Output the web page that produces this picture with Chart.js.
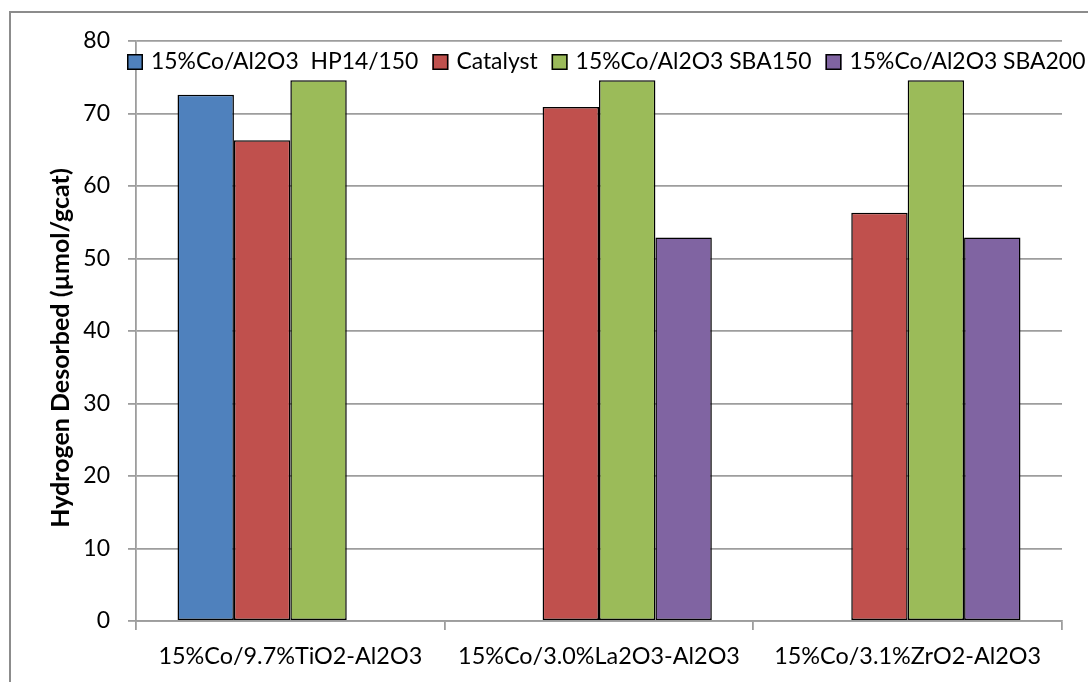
<!DOCTYPE html>
<html>
<head>
<meta charset="utf-8">
<script src="https://cdn.jsdelivr.net/npm/chart.js@4.4.0/dist/chart.umd.min.js"></script>
<style>
  body { margin: 0; background: #fff; }
  #wrap { position: relative; width: 1088px; height: 682px; }
</style>
</head>
<body>
<div id="wrap"><canvas id="canvas"></canvas></div>
<script>
// catalysts on the x axis, one series per support
var CATEGORIES = ["15%Co/9.7%TiO2-Al2O3", "15%Co/3.0%La2O3-Al2O3", "15%Co/3.1%ZrO2-Al2O3"];
var SERIES_NAMES = ["15%Co/Al2O3  HP14/150", "Catalyst", "15%Co/Al2O3 SBA150", "15%Co/Al2O3 SBA200"];
var HP14_150 = [72.6, null, null];
var CATALYST = [66.3, 70.9, 56.3];
var SBA150 = [74.6, 74.6, 74.6];
var SBA200 = [null, 52.9, 52.9];
var Y_TICKS = [0, 10, 20, 30, 40, 50, 60, 70, 80];
var Y_TITLE = "Hydrogen Desorbed (µmol/gcat)";

var COLORS = ["#4f81bd", "#c0504d", "#9bbb59", "#8064a2"];
var GRID = "#9d9d9d";
var FONT = "Lato";

/* outer frame of the chart box */
var framePlugin = {
  id: 'frame',
  beforeDraw: function(chart) {
    var c = chart.ctx;
    c.save();
    c.fillStyle = '#fff';
    c.fillRect(0, 0, chart.width, chart.height);
    c.strokeStyle = '#8c8c8c';
    c.lineWidth = 2;
    c.strokeRect(10, 12, chart.width + 50, chart.height + 50);
    c.restore();
  }
};

/* legend sits inside the plot, one row, plus the rotated y title */
var legendPlugin = {
  id: 'insideLegend',
  afterDraw: function(chart) {
    var c = chart.ctx;
    c.save();
    c.font = '22.9px ' + FONT;
    c.textBaseline = 'middle';
    c.textAlign = 'left';
    var x = 127, y = 62;
    chart.data.datasets.forEach(function(ds) {
      c.fillStyle = ds.backgroundColor;
      c.fillRect(x, y - 8, 16, 16);
      c.strokeStyle = '#000';
      c.lineWidth = 1.5;
      c.strokeRect(x + 0.75, y - 7.25, 14.5, 14.5);
      c.fillStyle = '#000';
      c.fillText(ds.label, x + 24, y);
      x += 24 + c.measureText(ds.label).width + 14;
    });

    c.translate(61, 348);
    c.rotate(-Math.PI / 2);
    c.textAlign = 'center';
    c.font = 'bold 25px ' + FONT;
    c.fillText(Y_TITLE, 0, 0);
    c.restore();
  }
};

function makeDataset(i, values) {
  return {
    label: SERIES_NAMES[i],
    data: values,
    backgroundColor: COLORS[i],
    borderColor: '#000',
    borderWidth: 1.5,
    borderSkipped: false
  };
}

var ctx = document.getElementById('canvas').getContext('2d');
window.myBar = new Chart(ctx, {
  type: 'bar',
  data: {
    labels: CATEGORIES,
    datasets: [
      makeDataset(0, HP14_150),
      makeDataset(1, CATALYST),
      makeDataset(2, SBA150),
      makeDataset(3, SBA200)
    ]
  },
  options: {
    responsive: true,
    maintainAspectRatio: false,
    animation: false,
    layout: { padding: { top: 41, right: 26, bottom: 0, left: 0 } },
    datasets: { bar: { categoryPercentage: 0.731, barPercentage: 1 } },
    plugins: {
      legend: { display: false },
      tooltip: { enabled: false }
    },
    scales: {
      x: {
        grid: { offset: true, drawOnChartArea: false, drawTicks: true, tickLength: 9, color: GRID, lineWidth: 1.8 },
        border: { color: GRID, width: 1.8 },
        ticks: { font: { family: FONT, size: 23.4 }, color: '#000', padding: 12, maxRotation: 0, autoSkip: false },
        afterFit: function(s) { s.height = 61; }
      },
      y: {
        min: Y_TICKS[0],
        max: Y_TICKS[Y_TICKS.length - 1],
        afterBuildTicks: function(s) {
          s.ticks = Y_TICKS.map(function(v) { return { value: v }; });
        },
        grid: { color: GRID, lineWidth: 1.8, tickLength: 8 },
        border: { color: GRID, width: 1.8 },
        ticks: { font: { family: FONT, size: 23 }, color: '#000', padding: 18 },
        afterFit: function(s) { s.width = 136; }
      }
    }
  },
  plugins: [framePlugin, legendPlugin]
});
</script>
</body>
</html>
